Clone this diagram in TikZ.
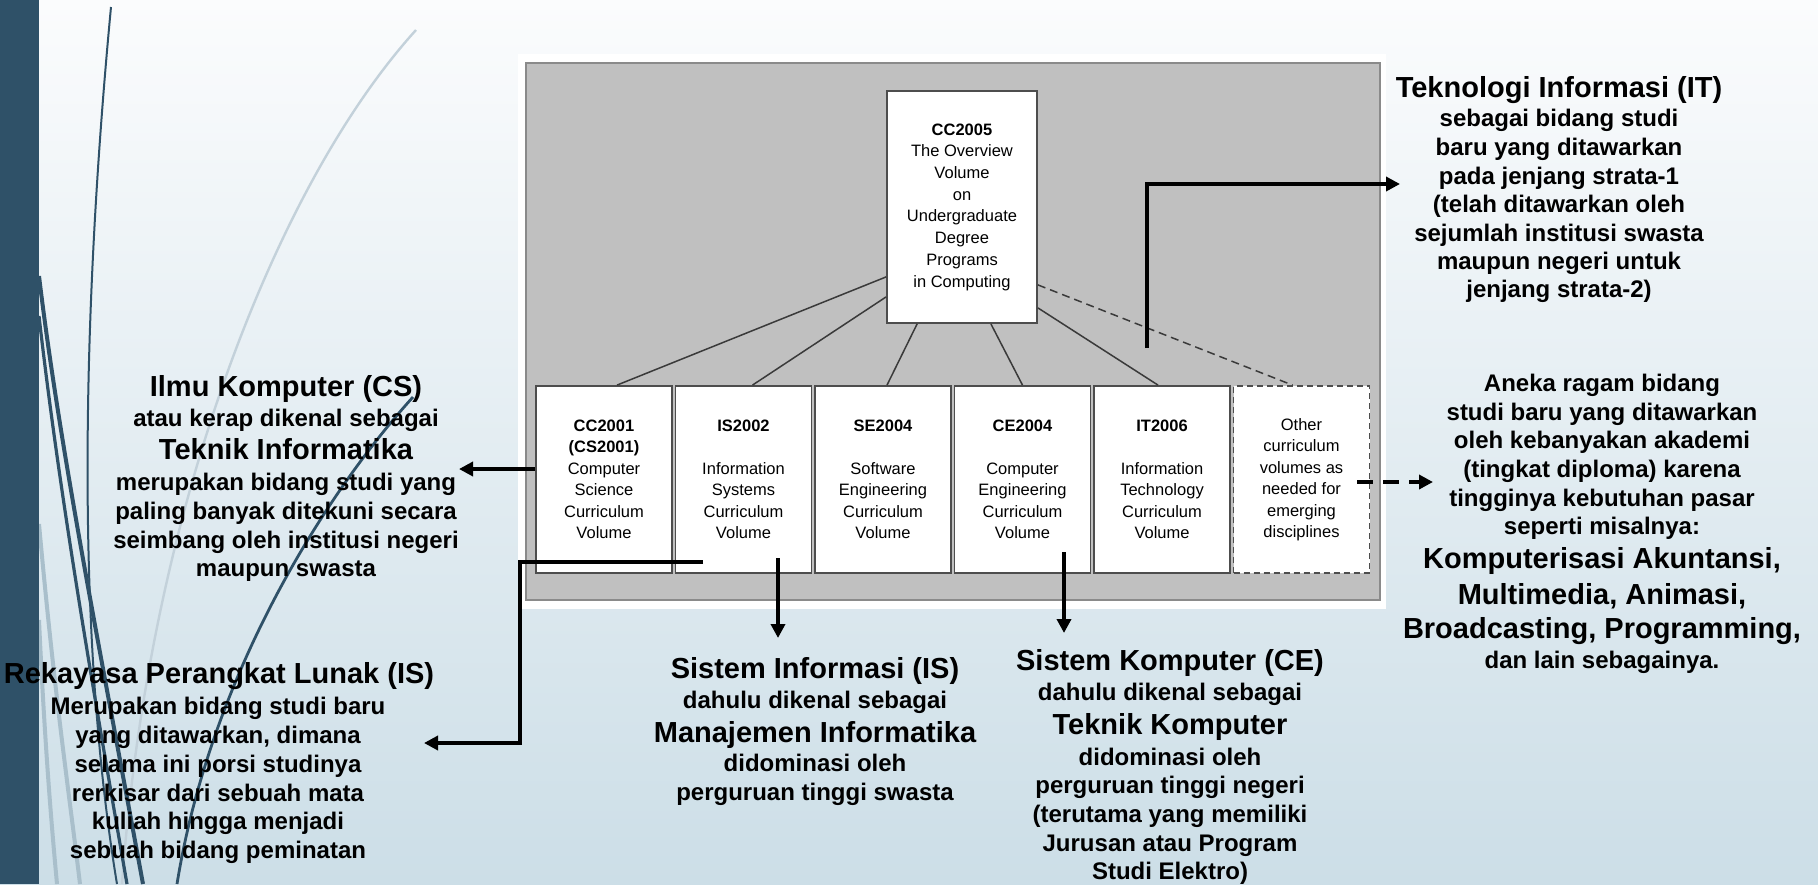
\documentclass[tikz,border=0pt]{standalone}
\usepackage{fontspec}
\setmainfont{Liberation Sans}
\usetikzlibrary{arrows.meta,calc}
\definecolor{barc}{HTML}{2F5168}
\definecolor{lightc}{HTML}{C3D1DA}
\definecolor{lightd}{HTML}{A9BFCB}
\definecolor{bgtop}{HTML}{FBFCFD}
\definecolor{bgbot}{HTML}{CCDEE7}
\definecolor{panelc}{HTML}{C0C0C0}
\definecolor{paneld}{HTML}{8A8A8A}
\definecolor{boxd}{HTML}{4D4D4D}
\definecolor{connc}{HTML}{3A3A3A}
\tikzset{
  sm/.style={anchor=base, inner sep=0pt, font=\bfseries\fontsize{12}{14}\selectfont},
  bg/.style={anchor=base, inner sep=0pt, font=\bfseries\fontsize{14.5}{17}\selectfont},
  topbox/.style={draw=boxd, line width=0.9pt, fill=white, minimum width=75pt, minimum height=116pt,
    align=center, inner sep=0pt, font=\fontsize{8.25}{10.85}\selectfont},
  volbox/.style={draw=boxd, line width=0.9pt, fill=white, minimum width=68pt, minimum height=93.5pt,
    align=center, inner sep=0pt, font=\fontsize{8.25}{10.75}\selectfont},
  conn/.style={draw=connc, line width=0.75pt},
  arr/.style={draw=black, line width=1.8pt, -{Triangle[length=7pt,width=7pt]}},
}
\begin{document}
\begin{tikzpicture}[x=0.5pt,y=-0.5pt]
\useasboundingbox (0,0) rectangle (1818,884);
% background
\shade[top color=bgtop, bottom color=bgbot] (0,0) rectangle (1818,884);
\draw[lightd, line width=2pt] (39,524) .. controls (55,700) and (70,800) .. (80,884);
\draw[lightd, line width=2pt] (39,620) .. controls (45,750) and (52,830) .. (57,884);
\draw[lightc, line width=1.2pt] (416,30) .. controls (280,180) and (150,500) .. (122,884);
\draw[barc, line width=2pt] (39,276) .. controls (60,450) and (100,650) .. (143,884);
\draw[barc, line width=1.6pt] (39,316) .. controls (60,500) and (95,700) .. (127,884);
\draw[barc, line width=1pt] (111,7) .. controls (88,250) and (70,600) .. (117,884);
\draw[barc, line width=1.4pt] (413,397) .. controls (320,500) and (210,680) .. (177,884);
\fill[barc] (0,0) rectangle (39,884);
% diagram panel
\fill[white] (518,54) rectangle (1386,609);
\draw[fill=panelc, draw=paneld, line width=1.2pt] (526,63) rectangle (1380,600);
\node[topbox] (cc05) at (962,207) {\textbf{CC2005}\\The Overview\\Volume\\on\\Undergraduate\\Degree\\Programs\\in Computing};
\node[volbox] (b1) at (604,479.5) {\textbf{CC2001}\\\textbf{(CS2001)}\\Computer\\Science\\Curriculum\\Volume};
\node[volbox] (b2) at (743.5,479.5) {\textbf{IS2002}\\[10.75pt]Information\\Systems\\Curriculum\\Volume};
\node[volbox] (b3) at (883,479.5) {\textbf{SE2004}\\[10.75pt]Software\\Engineering\\Curriculum\\Volume};
\node[volbox] (b4) at (1022.5,479.5) {\textbf{CE2004}\\[10.75pt]Computer\\Engineering\\Curriculum\\Volume};
\node[volbox] (b5) at (1162,479.5) {\textbf{IT2006}\\[10.75pt]Information\\Technology\\Curriculum\\Volume};
\node[volbox, dashed, dash pattern=on 3pt off 2pt] (b6) at (1301.5,479.5) {Other\\curriculum\\volumes as\\needed for\\emerging\\disciplines};
\draw[conn] ([yshift=23.5pt]cc05.south west) -- ([xshift=6.5pt]b1.north);
\draw[conn] ([yshift=13.5pt]cc05.south west) -- ([xshift=4.5pt]b2.north);
\draw[conn] ([xshift=15.5pt]cc05.south west) -- ([xshift=2pt]b3.north);
\draw[conn] ([xshift=-23.5pt]cc05.south east) -- (b4.north);
\draw[conn] ([yshift=8pt]cc05.south east) -- ([xshift=-2pt]b5.north);
\draw[conn, dash pattern=on 4pt off 2.5pt] ([yshift=19.5pt]cc05.south east) -- ([xshift=-4.5pt]b6.north);
% text blocks
\node[bg] (cs1) at (286,396) {Ilmu Komputer (CS)};
\node[sm] (cs2) at (286,426) {atau kerap dikenal sebagai};
\node[bg] (cs3) at (286,459) {Teknik Informatika};
\node[sm] (cs4) at (286,490) {merupakan bidang studi yang};
\node[sm] (cs5) at (286,519) {paling banyak ditekuni secara};
\node[sm] (cs6) at (286,548) {seimbang oleh institusi negeri};
\node[sm] (cs7) at (286,576) {maupun swasta};
\node[bg] (rp1) at (219,683) {Rekayasa Perangkat Lunak (IS)};
\node[sm] (rp2) at (218,714) {Merupakan bidang studi baru};
\node[sm] (rp3) at (218,743) {yang ditawarkan, dimana};
\node[sm] (rp4) at (218,772) {selama ini porsi studinya};
\node[sm] (rp5) at (218,801) {rerkisar dari sebuah mata};
\node[sm] (rp6) at (218,829) {kuliah hingga menjadi};
\node[sm] (rp7) at (218,858) {sebuah bidang peminatan};
\node[bg] (is1) at (815,678) {Sistem Informasi (IS)};
\node[sm] (is2) at (815,708) {dahulu dikenal sebagai};
\node[bg] (is3) at (815,742) {Manajemen Informatika};
\node[sm] (is4) at (815,771) {didominasi oleh};
\node[sm] (is5) at (815,800) {perguruan tinggi swasta};
\node[bg] (ce1) at (1170,670) {Sistem Komputer (CE)};
\node[sm] (ce2) at (1170,700) {dahulu dikenal sebagai};
\node[bg] (ce3) at (1170,734) {Teknik Komputer};
\node[sm] (ce4) at (1170,765) {didominasi oleh};
\node[sm] (ce5) at (1170,793) {perguruan tinggi negeri};
\node[sm] (ce6) at (1170,822) {(terutama yang memiliki};
\node[sm] (ce7) at (1170,851) {Jurusan atau Program};
\node[sm] (ce8) at (1170,879) {Studi Elektro)};
\node[bg] (it1) at (1559,97) {Teknologi Informasi (IT)};
\node[sm] (it2) at (1559,126) {sebagai bidang studi};
\node[sm] (it3) at (1559,155) {baru yang ditawarkan};
\node[sm] (it4) at (1559,184) {pada jenjang strata-1};
\node[sm] (it5) at (1559,212) {(telah ditawarkan oleh};
\node[sm] (it6) at (1559,241) {sejumlah institusi swasta};
\node[sm] (it7) at (1559,269) {maupun negeri untuk};
\node[sm] (it8) at (1559,297) {jenjang strata-2)};
\node[sm] (ot1) at (1602,391) {Aneka ragam bidang};
\node[sm] (ot2) at (1602,420) {studi baru yang ditawarkan};
\node[sm] (ot3) at (1602,448) {oleh kebanyakan akademi};
\node[sm] (ot4) at (1602,477) {(tingkat diploma) karena};
\node[sm] (ot5) at (1602,506) {tingginya kebutuhan pasar};
\node[sm] (ot6) at (1602,534) {seperti misalnya:};
\node[bg] (ot7) at (1602,568) {Komputerisasi Akuntansi,};
\node[bg] (ot8) at (1602,604) {Multimedia, Animasi,};
\node[bg] (ot9) at (1602,638) {Broadcasting, Programming,};
\node[sm] (ot10) at (1602,668) {dan lain sebagainya.};
% arrows
\coordinate (csto) at (459,469);
\coordinate (rplfrom) at (703,562);
\coordinate (rplbend) at (520,562);
\coordinate (rplto) at (424,743);
\coordinate (isfrom) at (778,558);
\coordinate (isto) at (778,638);
\coordinate (cefrom) at (1064,552);
\coordinate (ceto) at (1064,633);
\coordinate (itfrom) at (1147,348);
\coordinate (itto) at (1400,184);
\coordinate (otfrom) at (1357,482);
\coordinate (otto) at (1433,482);
\draw[arr] (b1.west |- csto) -- (csto);
\draw[arr] (rplfrom) -- (rplbend) |- (rplto);
\draw[arr] (isfrom) -- (isto);
\draw[arr] (cefrom) -- (ceto);
\draw[arr] (itfrom) |- (itto);
\draw[arr, dash pattern=on 8pt off 5pt] (otfrom) -- (otto);
\end{tikzpicture}
\end{document}
